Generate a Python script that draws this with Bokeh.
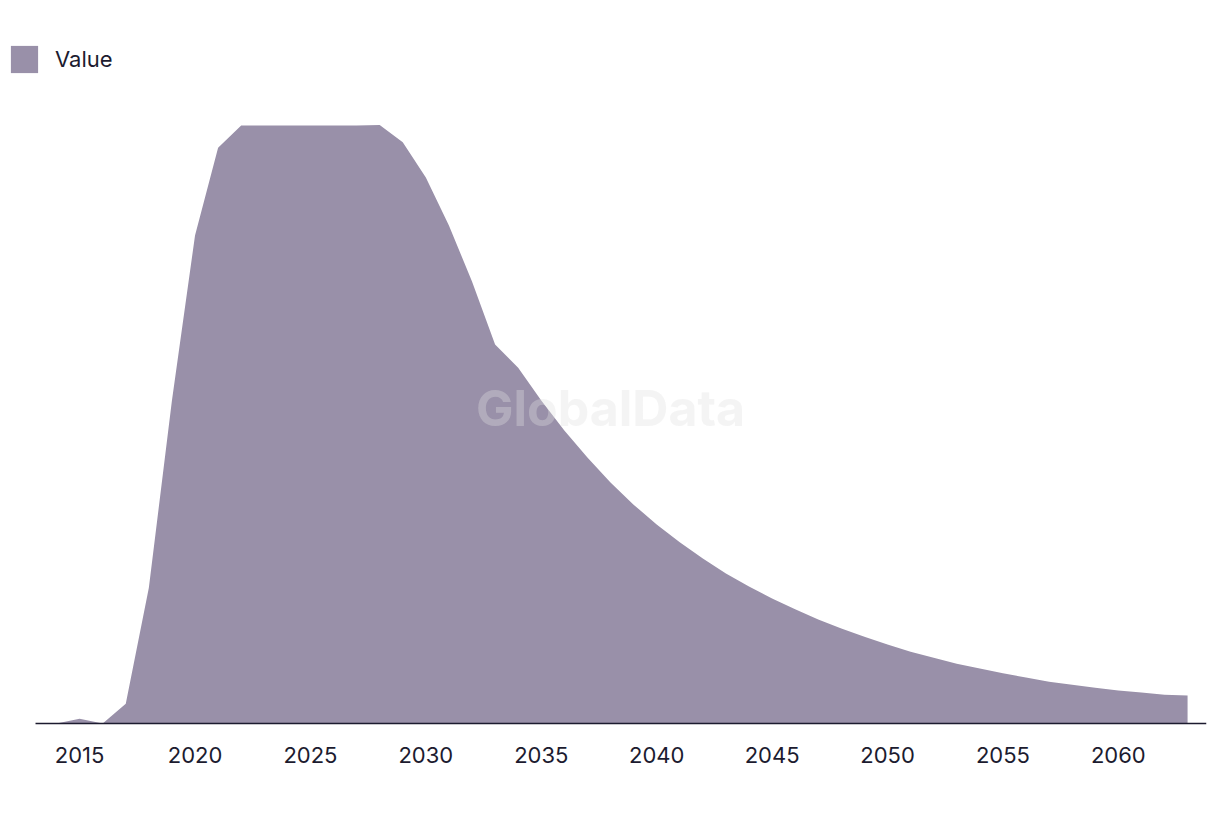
from bokeh.plotting import figure
from bokeh.models import FixedTicker, Range1d, Legend, LegendItem, Label
from bokeh.embed import file_html
from bokeh.resources import INLINE

years = list(range(2014, 2064))
values = [0, 0.8, 0, 3.3, 22.7, 54.0, 81.6, 96.3, 100, 100,
          100, 100, 100, 100, 100.1, 97.2, 91.3, 83.3, 73.9, 63.4,
          59.5, 54.0, 49.0, 44.5, 40.3, 36.6, 33.3, 30.3, 27.6, 25.1,
          22.9, 20.9, 19.1, 17.4, 15.9, 14.5, 13.2, 12.0, 11.0, 10.0,
          9.2, 8.4, 7.7, 7.0, 6.5, 6.0, 5.5, 5.2, 4.8, 4.7]
tick_years = [2015, 2020, 2025, 2030, 2035, 2040, 2045, 2050, 2055, 2060]
series_name = "Value"
watermark = "GlobalData"

FILL = "#9990a9"
TEXT = "#1c1b2f"

X0, X1 = 2011.573, 2063.82      # view range (frame spans whole left side)
AX0 = 2013.09                   # where the baseline rule starts

p = figure(width=1220, height=814, output_backend="svg", toolbar_location=None,
           x_range=Range1d(X0, X1), y_range=Range1d(-0.5, 115.89),
           min_border_left=0, min_border_right=14, min_border_top=30, min_border_bottom=88)
p.outline_line_color = None
p.xgrid.visible = False
p.ygrid.visible = False
p.yaxis.visible = False
p.background_fill_color = "white"
p.border_fill_color = "white"

r = p.varea(x=years, y1=[0] * len(years), y2=values, fill_color=FILL, fill_alpha=1.0)

# baseline rule
p.segment(x0=[AX0], x1=[X1], y0=[0], y1=[0], line_color=TEXT, line_width=1.6)

p.xaxis.ticker = FixedTicker(ticks=tick_years)
p.xaxis.major_tick_line_color = None
p.xaxis.minor_tick_line_color = None
p.xaxis.axis_line_color = None
p.xaxis.major_label_text_font = "Inter"
p.xaxis.major_label_text_font_size = "22px"
p.xaxis.major_label_text_color = TEXT
p.xaxis.major_label_standoff = 14

wm = Label(x=2038.0, y=52.7, text=watermark, text_align="center", text_baseline="middle",
           text_font="Inter", text_font_style="bold", text_font_size="50px",
           text_color="#e0e0e0", text_alpha=0.35)
p.add_layout(wm)

legend = Legend(items=[LegendItem(label=series_name, renderers=[r])],
                location=(7, 650), orientation="horizontal",
                glyph_width=34, glyph_height=34, label_standoff=14,
                padding=0, margin=0, border_line_alpha=0, background_fill_alpha=0,
                label_text_font="Inter", label_text_font_size="22px", label_text_color=TEXT)
p.add_layout(legend, "center")

open("out.html", "w").write(file_html(p, INLINE))
